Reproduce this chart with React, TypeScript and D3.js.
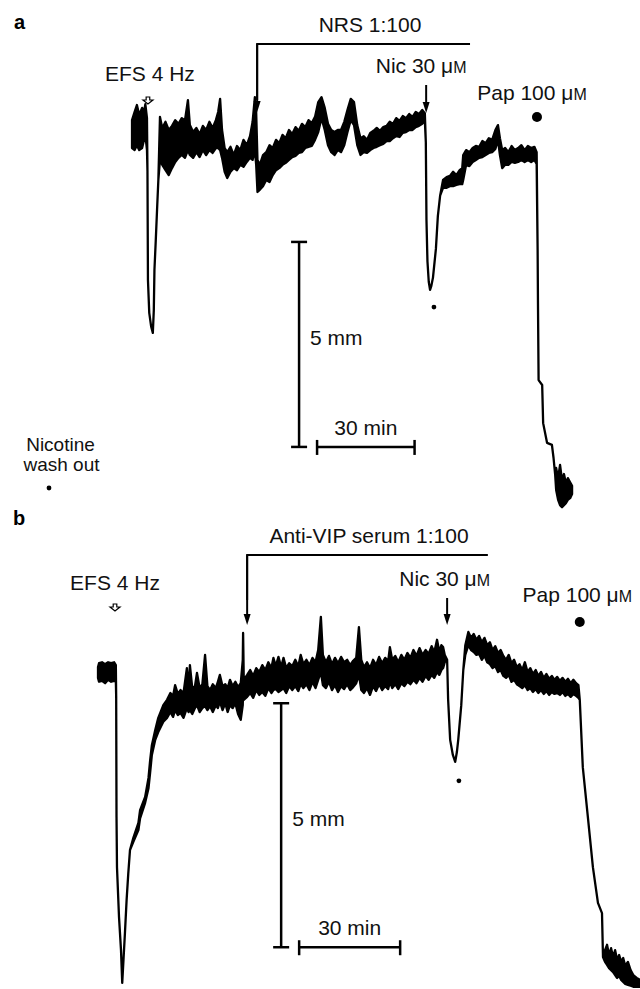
import { useEffect, useRef } from 'react';
import * as d3 from 'd3';

// trace rows: [time (min), upper edge of noise band (mm), lower edge (mm)]
const traceA: [number, number, number][] = [
  [-0.3, 0.24, -0.44], [0.5, 0.44, -0.49], [1.2, 0.61, -0.37], [1.9, 0.37, -0.49],
  [2.8, 0.54, -0.44], [3.4, 0.44, -0.24], [3.8, 0.63, -0.12], [4.3, 0.29, -0.49],
  [4.45, -1.0, -1.0], [4.6, -3.66, -3.66], [5.0, -4.46, -4.46], [5.6, -4.8, -4.8],
  [6.1, -4.95, -4.95], [6.4, -4.4, -4.4], [6.6, -3.41, -3.41], [7.0, -2.7, -2.7],
  [7.4, -1.95, -1.95], [7.8, -1.22, -1.22], [8.3, 0.32, -0.73], [9, 0.05, -0.85],
  [10, 0.2, -0.98], [11, 0, -1.1], [12, 0.1, -0.93], [13, 0.24, -0.78],
  [14, 0.15, -0.68], [15, 0.29, -0.61], [16, 0.24, -0.68], [16.9, 0.73, -0.49],
  [17.5, 0.12, -0.61], [18.5, -0.05, -0.68], [19.5, 0.05, -0.54], [20.5, -0.1, -0.66],
  [21.5, 0.1, -0.49], [22.5, 0, -0.61], [23.5, 0.2, -0.49], [24.5, 0.05, -0.56],
  [25.5, 0.24, -0.44], [26.2, 0.44, -0.44], [26.8, 0.76, -0.49], [27.4, 0, -0.68],
  [28.2, -0.44, -1.02], [29, -0.54, -1.17], [30, -0.41, -1.02], [31, -0.61, -0.93],
  [32, -0.39, -0.98], [33, -0.49, -0.85], [34, -0.24, -0.9], [35, -0.37, -0.78],
  [36, -0.15, -0.68], [36.8, 0.2, -0.73], [37.5, 0.8, -0.49], [37.9, 0.44, -0.85],
  [38.3, -0.73, -1.51], [39, -0.85, -1.46], [40, -0.61, -1.37], [41, -0.54, -1.22],
  [42, -0.37, -1.27], [43, -0.44, -1.1], [44, -0.24, -0.98], [45, -0.32, -0.93],
  [46, -0.12, -0.85], [47, -0.2, -0.8], [48, 0, -0.73], [49, -0.1, -0.66],
  [50, 0.07, -0.63], [51, -0.02, -0.56], [52, 0.15, -0.54], [53, 0.07, -0.44],
  [54, 0.24, -0.41], [55, 0.17, -0.39], [56, 0.32, -0.24], [57, 0.68, -0.05],
  [58, 0.8, 0.29], [59, 0.54, 0], [60, 0.15, -0.37], [61, 0, -0.54],
  [62, -0.05, -0.61], [63, 0, -0.49], [64, 0, -0.54], [65, 0.2, -0.37],
  [66, 0.49, -0.05], [67, 0.76, 0.24], [68, 0.68, 0.12], [69, 0.12, -0.37],
  [70, -0.2, -0.61], [71, -0.15, -0.54], [72, -0.24, -0.56], [73, -0.07, -0.49],
  [74, -0.02, -0.44], [75, 0.05, -0.41], [76, -0.02, -0.37], [77, 0.07, -0.34],
  [78, 0.1, -0.27], [79, 0.2, -0.27], [80, 0.15, -0.2], [81, 0.29, -0.15],
  [82, 0.22, -0.17], [83, 0.34, -0.07], [84, 0.29, -0.05], [85, 0.39, 0],
  [86, 0.32, 0], [87, 0.44, 0.07], [88, 0.39, 0.1], [89, 0.49, 0.15],
  [89.8, 0.41, 0.22], [90.1, -0.3, -0.3], [90.3, -2.2, -2.2], [90.6, -3.2, -3.2],
  [91.0, -3.7, -3.7], [91.4, -3.9, -3.9], [91.8, -3.8, -3.8], [92.3, -3.6, -3.6],
  [93.2, -2.9, -2.9], [93.8, -2.1, -2.1], [94.5, -1.6, -1.6], [95.4, -1.22, -1.41],
  [96.5, -1.15, -1.41], [97.5, -1.12, -1.37], [98.5, -1.02, -1.37], [99.5, -1.1, -1.34],
  [100.5, -0.98, -1.32], [101.3, -0.93, -1.32], [101.6, -0.61, -1.22], [102.5, -0.49, -0.85],
  [103.5, -0.54, -0.88], [104.5, -0.44, -0.78], [105.5, -0.39, -0.73], [106.5, -0.41, -0.68],
  [107.5, -0.27, -0.66], [108.5, -0.32, -0.61], [109.5, -0.2, -0.56], [110.5, -0.24, -0.54],
  [111.5, 0, -0.46], [112.3, 0.12, -0.24], [112.9, -0.2, -0.61], [113.6, -0.49, -0.93],
  [114.5, -0.44, -0.85], [115.5, -0.54, -0.85], [116.5, -0.39, -0.78], [117.5, -0.49, -0.8],
  [118.5, -0.44, -0.78], [119.5, -0.37, -0.73], [120.5, -0.49, -0.78], [121.5, -0.39, -0.73],
  [122.5, -0.44, -0.78], [123.5, -0.41, -0.73], [124.2, -0.54, -0.83], [124.5, -2.93, -2.93],
  [124.6, -4.15, -4.15], [124.8, -6.1, -6.1], [125.9, -6.22, -6.22], [126.2, -7.15, -7.15],
  [127.4, -7.63, -7.63], [128.9, -7.68, -7.68], [129.4, -8.0, -8.0], [129.9, -8.41, -8.41],
  [130.2, -8.24, -8.78], [130.8, -8.49, -9.02], [131.4, -8.17, -9.15], [132, -8.54, -9.2],
  [132.6, -8.39, -9.15], [133.2, -8.61, -9.1], [133.8, -8.49, -9.02], [134.5, -8.59, -8.98],
  [135.1, -8.68, -8.88],
];

const traceB: [number, number, number][] = [
  [0, 0.1, -0.12], [0.3, 0.18, -0.2], [1.2, 0.2, -0.18], [2.1, 0.16, -0.23],
  [3.0, 0.2, -0.16], [3.9, 0.18, -0.2], [4.8, 0.2, -0.18], [5.3, 0.14, -0.2],
  [5.4, -0.5, -0.5], [5.5, -2.97, -2.97], [5.64, -4.0, -4.0], [6.24, -5.02, -5.02],
  [6.83, -5.7, -5.7], [7.2, -6.37, -6.37], [8.0, -5.35, -5.35], [8.5, -4.67, -4.67],
  [9.0, -4.12, -4.12], [9.5, -3.65, -3.65], [10.5, -3.4, -3.48], [12.0, -3.09, -3.24],
  [12.5, -2.83, -3.0], [14.0, -2.56, -2.68], [15.0, -2.17, -2.38], [15.5, -1.8, -2.05],
  [16.0, -1.5, -1.7], [17.0, -1.19, -1.39], [17.9, -0.94, -1.23], [19.4, -0.68, -1.02],
  [20.5, -0.57, -0.94], [21.5, -0.43, -0.82], [22.3, -0.49, -0.92], [22.9, -0.27, -0.78],
  [23.7, -0.45, -0.88], [24.5, -0.37, -0.84], [25.4, -0.43, -0.94], [26.4, 0.08, -0.74],
  [26.9, -0.37, -0.82], [27.3, 0.14, -0.78], [28.0, -0.33, -0.86], [28.8, -0.29, -0.74],
  [29.4, -0.02, -0.68], [30.2, -0.33, -0.82], [31.0, -0.25, -0.74], [31.8, 0.35, -0.7],
  [32.5, -0.29, -0.78], [33.3, -0.37, -0.7], [34.1, -0.25, -0.82], [35.0, -0.33, -0.68],
  [35.6, -0.2, -0.74], [36.2, -0.06, -0.61], [37.0, -0.29, -0.78], [37.8, -0.25, -0.64],
  [38.5, -0.33, -0.82], [39.2, -0.16, -0.68], [40.0, -0.29, -0.74], [40.8, -0.2, -0.64],
  [41.6, -0.31, -0.86], [42.4, -0.23, -0.98], [43.0, 0.25, -0.68], [43.1, 0.8, -0.37],
  [43.3, -0.16, -0.57], [44.3, -0.06, -0.51], [45.2, 0.04, -0.43], [46.1, -0.08, -0.53],
  [47.0, 0.08, -0.37], [47.9, 0, -0.47], [48.8, 0.14, -0.41], [49.7, 0.04, -0.49],
  [50.6, 0.2, -0.33], [51.5, 0.08, -0.43], [52.1, 0.29, -0.37], [52.8, 0.12, -0.35],
  [53.6, 0.31, -0.41], [54.4, 0.1, -0.37], [55.1, 0.29, -0.33], [55.9, 0.08, -0.43],
  [56.8, 0.18, -0.29], [57.7, 0.12, -0.37], [58.6, 0.25, -0.29], [59.5, 0.12, -0.39],
  [60.2, 0.35, -0.25], [61.0, 0.16, -0.33], [61.9, 0.25, -0.25], [62.8, 0.14, -0.37],
  [63.7, 0.29, -0.2], [64.6, 0.2, -0.33], [65.4, 0.45, -0.16], [66.2, 1.13, 0],
  [66.8, 0.35, -0.27], [67.7, 0.2, -0.33], [68.6, 0.33, -0.2], [69.5, 0.16, -0.37],
  [70.4, 0.29, -0.27], [71.3, 0.18, -0.41], [72.2, 0.31, -0.29], [73.1, 0.2, -0.35],
  [74.0, 0.25, -0.25], [74.9, 0.14, -0.37], [75.8, 0.23, -0.31], [76.7, 0.29, -0.23],
  [77.5, 0.92, -0.06], [78.2, 0.25, -0.37], [79.0, 0.1, -0.43], [79.9, 0.2, -0.33],
  [80.8, 0.08, -0.47], [81.7, 0.25, -0.29], [82.6, 0.14, -0.39], [83.5, 0.31, -0.25],
  [84.4, 0.18, -0.37], [85.3, 0.29, -0.29], [86.2, 0.23, -0.35], [86.7, 0.51, -0.2],
  [87.4, 0.25, -0.33], [88.3, 0.33, -0.25], [89.2, 0.2, -0.35], [90.1, 0.35, -0.23],
  [91.0, 0.25, -0.29], [91.9, 0.39, -0.2], [92.8, 0.29, -0.25], [93.7, 0.45, -0.16],
  [94.6, 0.33, -0.23], [95.5, 0.49, -0.12], [96.4, 0.35, -0.2], [97.3, 0.45, -0.08],
  [98.2, 0.37, -0.16], [99.1, 0.53, -0.06], [99.9, 0.41, -0.12], [100.7, 0.66, 0],
  [101.4, 0.41, -0.06], [102.0, 0.55, 0.04], [102.5, 0.51, 0.08], [103.0, 0.35, 0.2],
  [103.7, 0.25, 0.25], [104.0, -0.57, -0.57], [104.6, -1.39, -1.39], [105.4, -1.7, -1.7],
  [106.1, -1.84, -1.84], [106.6, -1.64, -1.64], [107.0, -1.39, -1.39], [107.9, -0.68, -0.68],
  [108.5, 0.04, 0.04], [109.1, 0.55, 0.35], [110.0, 0.82, 0.55], [110.8, 0.7, 0.45],
  [111.6, 0.78, 0.41], [112.4, 0.66, 0.35], [113.2, 0.74, 0.37], [114.0, 0.61, 0.25],
  [114.8, 0.7, 0.33], [115.6, 0.55, 0.2], [116.4, 0.61, 0.16], [117.2, 0.45, 0.08],
  [118.0, 0.53, 0.12], [118.8, 0.39, 0], [119.6, 0.45, 0.04], [120.4, 0.33, -0.08],
  [121.2, 0.25, -0.12], [122.0, 0.35, -0.06], [122.8, 0.18, -0.2], [123.6, 0.25, -0.16],
  [124.4, 0.1, -0.25], [125.2, 0.16, -0.29], [126.0, 0.04, -0.33], [126.8, 0.2, -0.27],
  [127.6, 0, -0.37], [128.4, 0.08, -0.33], [129.2, -0.04, -0.41], [130.0, 0.04, -0.35],
  [130.8, -0.08, -0.43], [131.6, 0, -0.37], [132.4, -0.12, -0.45], [133.2, -0.04, -0.39],
  [134.0, -0.14, -0.47], [134.8, -0.08, -0.41], [135.6, -0.16, -0.45], [136.4, -0.1, -0.43],
  [137.2, -0.18, -0.47], [138.0, -0.12, -0.41], [138.8, -0.2, -0.49], [139.6, -0.14, -0.45],
  [140.4, -0.23, -0.51], [141.2, -0.16, -0.45], [142.0, -0.23, -0.49], [142.7, -0.27, -0.53],
  [143.1, -0.57, -0.57], [144.0, -1.95, -1.95], [145.5, -2.97, -2.97], [147.0, -4.0, -4.0],
  [148.5, -4.73, -4.73], [149.7, -4.94, -4.94], [150.0, -5.84, -5.84], [150.6, -5.7, -5.94],
  [151.2, -5.59, -6.0], [151.8, -5.8, -6.07], [152.4, -5.66, -6.11], [153.0, -5.84, -6.15],
  [153.6, -5.7, -6.21], [154.2, -5.9, -6.27], [154.8, -5.8, -6.23], [155.4, -5.94, -6.31],
  [156.0, -5.86, -6.35], [156.6, -6.02, -6.39], [157.4, -5.94, -6.41], [158.2, -6.11, -6.43],
  [159.0, -6.21, -6.45], [160.0, -6.27, -6.45], [161.0, -6.31, -6.45],
];

// event times (min)
const eventsA = { efs: 4.6, nrsStart: 38.2, nrsEnd: 103.7, nic: 90.2, pap: 124.3, washDot: [92.6, -4.32] };
const eventsB = { efs: 5.05, serumStart: 44.3, serumEnd: 115.8, nic: 103.7, pap: 143.1, washDot: [107.2, -2.23] };

// calibration bars: [time, mm] of the corner where they meet
const barLenMm = 5;
const barLenMin = 30;
const calibA = [51.1, -2.73];
const calibB = [54.4, -0.64];

const FONT = '"Liberation Sans", Arial, Helvetica, sans-serif';

export default function App() {
  const ref = useRef<SVGSVGElement | null>(null);

  useEffect(() => {
    const svg = d3.select(ref.current);
    svg.selectAll('*').remove();

    // panel scales: 30 min and 5 mm as drawn by the calibration bars
    const xA = d3.scaleLinear().domain([0, 30]).range([133, 230.5]);
    const yA = d3.scaleLinear().domain([0, -5]).range([130, 335]);
    const xB = d3.scaleLinear().domain([0, 30]).range([98, 199]);
    const yB = d3.scaleLinear().domain([0, -5]).range([672, 916]);

    const label = (x: number, y: number, text: string, anchor = 'middle', unit = false, size = 21) => {
      const t = svg.append('text')
        .attr('x', x).attr('y', y)
        .attr('text-anchor', anchor)
        .style('font-family', FONT)
        .style('font-size', `${size}px`)
        .attr('fill', '#111');
      if (unit) {
        t.append('tspan').text(text + ' \u03bc');
        t.append('tspan').style('font-size', '16px').text('M');
      } else {
        t.text(text);
      }
      return t;
    };

    const downArrow = (x: number, y1: number, tip: number) => {
      svg.append('line').attr('x1', x).attr('x2', x).attr('y1', y1).attr('y2', tip - 8)
        .attr('stroke', '#000').attr('stroke-width', 2);
      svg.append('path')
        .attr('d', `M${x - 3.5},${tip - 11} L${x + 3.5},${tip - 11} L${x},${tip} Z`)
        .attr('fill', '#000');
    };

    const hollowArrow = (x: number, tip: number) => {
      svg.append('path')
        .attr('d', `M${x - 1.8},${tip - 7} L${x + 1.8},${tip - 7} L${x + 1.8},${tip - 4} L${x + 5},${tip - 4} L${x},${tip} L${x - 5},${tip - 4} L${x - 1.8},${tip - 4} Z`)
        .attr('fill', '#fff').attr('stroke', '#000').attr('stroke-width', 1.2);
    };

    const drawPanel = (
      rows: [number, number, number][],
      x: d3.ScaleLinear<number, number>,
      y: d3.ScaleLinear<number, number>,
      calib: number[],
    ) => {
      const area = d3.area<[number, number, number]>()
        .x(d => x(d[0]))
        .y0(d => y(d[2]))
        .y1(d => y(d[1]));
      svg.append('path')
        .attr('d', area(rows) as string)
        .attr('fill', '#000')
        .attr('stroke', '#000')
        .attr('stroke-width', 2.3)
        .attr('stroke-linejoin', 'round');

      // calibration bars
      const cx = x(calib[0]);
      const top = y(calib[1]);
      const bottom = y(calib[1] - barLenMm);
      const g = svg.append('g').attr('stroke', '#000').attr('stroke-width', 2.5);
      g.append('line').attr('x1', cx).attr('x2', cx).attr('y1', top).attr('y2', bottom);
      g.append('line').attr('x1', cx - 8).attr('x2', cx + 8).attr('y1', top).attr('y2', top);
      g.append('line').attr('x1', cx - 8).attr('x2', cx + 8).attr('y1', bottom).attr('y2', bottom);
      const hx0 = cx + 18;
      const hx1 = hx0 + (x(barLenMin) - x(0));
      g.append('line').attr('x1', hx0).attr('x2', hx1).attr('y1', bottom).attr('y2', bottom);
      g.append('line').attr('x1', hx0).attr('x2', hx0).attr('y1', bottom - 7).attr('y2', bottom + 8);
      g.append('line').attr('x1', hx1).attr('x2', hx1).attr('y1', bottom - 7).attr('y2', bottom + 8);
      label(cx + 11, (top + bottom) / 2 + 1, `${barLenMm} mm`, 'start');
      label((hx0 + hx1) / 2, bottom - 12, `${barLenMin} min`);
    };

    // ---- panel a ----
    drawPanel(traceA, xA, yA, calibA);
    svg.append('text').attr('x', 14).attr('y', 29).style('font-family', FONT)
      .style('font-size', '20px').style('font-weight', 'bold').text('a');
    label(xA(eventsA.efs) + 2, 81, 'EFS 4 Hz');
    hollowArrow(xA(eventsA.efs), 104);
    svg.append('polyline')
      .attr('points', `${xA(eventsA.nrsStart)},100 ${xA(eventsA.nrsStart)},44 ${xA(eventsA.nrsEnd)},44`)
      .attr('fill', 'none').attr('stroke', '#000').attr('stroke-width', 2);
    downArrow(xA(eventsA.nrsStart), 44, 112);
    label(370, 32, 'NRS 1:100');
    label(xA(eventsA.nic) - 5, 73, 'Nic 30', 'middle', true);
    downArrow(xA(eventsA.nic), 85, 113);
    label(xA(eventsA.pap) - 5, 100, 'Pap 100', 'middle', true);
    svg.append('circle').attr('cx', xA(eventsA.pap)).attr('cy', 117).attr('r', 5).attr('fill', '#000');
    svg.append('circle').attr('cx', xA(eventsA.washDot[0])).attr('cy', yA(eventsA.washDot[1])).attr('r', 2.4).attr('fill', '#000');

    // legend for the small dots
    label(60.5, 451, 'Nicotine', 'middle', false, 19);
    label(61.5, 471, 'wash out', 'middle', false, 19);
    svg.append('circle').attr('cx', 49).attr('cy', 488).attr('r', 2.4).attr('fill', '#000');

    // ---- panel b ----
    drawPanel(traceB, xB, yB, calibB);
    svg.append('text').attr('x', 13).attr('y', 525).style('font-family', FONT)
      .style('font-size', '20px').style('font-weight', 'bold').text('b');
    label(xB(eventsB.efs), 590, 'EFS 4 Hz');
    hollowArrow(xB(eventsB.efs), 611);
    svg.append('polyline')
      .attr('points', `${xB(eventsB.serumStart)},600 ${xB(eventsB.serumStart)},555 ${xB(eventsB.serumEnd)},555`)
      .attr('fill', 'none').attr('stroke', '#000').attr('stroke-width', 2);
    downArrow(xB(eventsB.serumStart), 555, 625);
    label(369, 543, 'Anti-VIP serum 1:100');
    label(xB(eventsB.nic) - 2.5, 586, 'Nic 30', 'middle', true);
    downArrow(xB(eventsB.nic), 598, 625);
    label(xB(eventsB.pap) - 2.5, 602, 'Pap 100', 'middle', true);
    svg.append('circle').attr('cx', xB(eventsB.pap)).attr('cy', 622).attr('r', 5).attr('fill', '#000');
    svg.append('circle').attr('cx', xB(eventsB.washDot[0])).attr('cy', yB(eventsB.washDot[1])).attr('r', 2.4).attr('fill', '#000');
  }, []);

  return (
    <svg
      ref={ref}
      width={640}
      height={989}
      style={{ position: 'absolute', left: 0, top: 0, background: '#fff' }}
    />
  );
}
